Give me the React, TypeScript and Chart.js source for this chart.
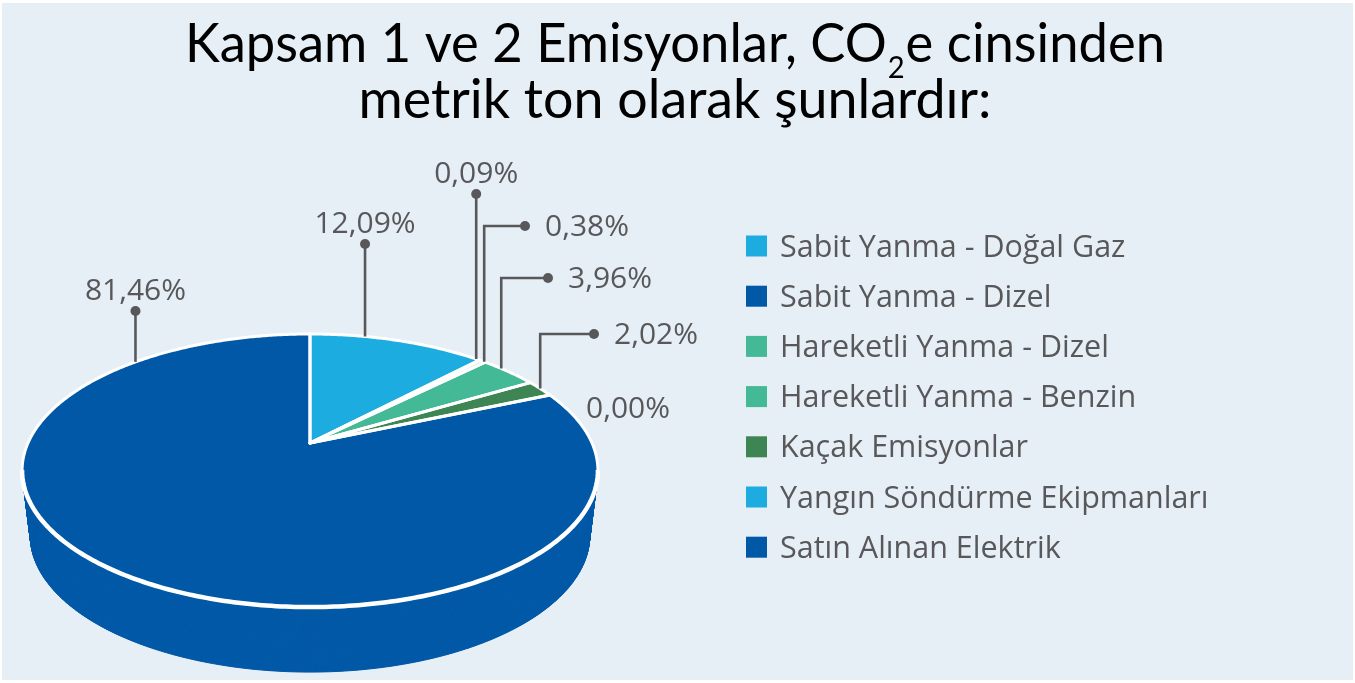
import React, { useEffect, useRef } from 'react';
import { Chart, registerables } from 'chart.js';

Chart.register(...registerables);

// ---------- data ----------
const categories = [
  'Sabit Yanma - Doğal Gaz',
  'Sabit Yanma - Dizel',
  'Hareketli Yanma - Dizel',
  'Hareketli Yanma - Benzin',
  'Kaçak Emisyonlar',
  'Yangın Söndürme Ekipmanları',
  'Satın Alınan Elektrik',
];
const shares = [12.09, 0.09, 0.38, 3.96, 2.02, 0.0, 81.46];
const valueLabels = ['12,09%', '0,09%', '0,38%', '3,96%', '2,02%', '0,00%', '81,46%'];
const sliceColors = ['#1DACE0', '#0058A7', '#43B995', '#43B995', '#3D8553', '#1DACE0', '#0058A7'];
const titleLine1 = ['Kapsam 1 ve 2 Emisyonlar, CO', '2', 'e cinsinden'];
const titleLine2 = 'metrik ton olarak şunlardır:';

// ---------- layout / style ----------
const BG = '#E6EEF6';
const TEXT = '#58585A';
const GEO = { cx: 310, cy: 443, R: 282, k: 131, p: 0.2016, Rb: 274, kb: 131, depth: 65 };
// label leader layout (anchor angle in degrees clockwise from 12 o'clock)
const labelLayout: any[] = [
  { kind: 'top', anchorDeg: 13.5, dotY: 244 },
  { kind: 'top', anchorDeg: 42.6, dotY: 194 },
  { kind: 'right', anchorDeg: 44.9, dotX: 525, dotY: 226 },
  { kind: 'right', anchorDeg: 50, dotX: 548, dotY: 278 },
  { kind: 'right', anchorDeg: 63, dotX: 594, dotY: 334 },
  { kind: 'free', x: 586, y: 418 },
  { kind: 'top', anchorDeg: -45, dotY: 311 },
];
const LEGEND = { x: 746, y0: 246, step: 50.2, box: 21, textX: 780 };

function proj(a: number, bottom = false): [number, number] {
  const u = Math.cos(a);
  const v = Math.sin(a);
  const w = 1 - GEO.p * v;
  if (!bottom) return [GEO.cx + (GEO.R * u) / w, GEO.cy + (GEO.k * v) / w];
  return [GEO.cx + (GEO.Rb * u) / w, GEO.cy + GEO.depth + (GEO.kb * v) / w];
}

const pie3d = {
  id: 'pie3d',
  beforeDraw(chart: any) {
    const ctx = chart.ctx;
    ctx.save();
    ctx.fillStyle = '#ffffff';
    ctx.fillRect(0, 0, chart.width, chart.height);
    ctx.fillStyle = BG;
    ctx.fillRect(2, 3, chart.width - 4, chart.height - 6);
    ctx.restore();
  },
  beforeDatasetsDraw(chart: any) {
    const ctx = chart.ctx;
    const meta = chart.getDatasetMeta(0);
    const arcs = meta.data as any[];
    const cols = chart.data.datasets[0].backgroundColor as string[];
    ctx.save();
    // side walls
    arcs.forEach((arc, i) => {
      const s = arc.startAngle;
      const e = arc.endAngle;
      if (e - s < 1e-6) return;
      ctx.fillStyle = cols[i];
      ctx.strokeStyle = cols[i];
      ctx.lineWidth = 1;
      const n = Math.max(1, Math.ceil((e - s) / (Math.PI / 360)));
      for (let j = 0; j < n; j++) {
        const a0 = s + ((e - s) * j) / n;
        const a1 = s + ((e - s) * (j + 1)) / n;
        const t0 = proj(a0), t1 = proj(a1), b1 = proj(a1, true), b0 = proj(a0, true);
        ctx.beginPath();
        ctx.moveTo(t0[0], t0[1]);
        ctx.lineTo(t1[0], t1[1]);
        ctx.lineTo(b1[0], b1[1]);
        ctx.lineTo(b0[0], b0[1]);
        ctx.closePath();
        ctx.fill();
        ctx.stroke();
      }
    });
    // top faces
    const paths: Path2D[] = [];
    arcs.forEach((arc, i) => {
      const s = arc.startAngle;
      const e = arc.endAngle;
      if (e - s < 1e-6) return;
      const path = new Path2D();
      path.moveTo(GEO.cx, GEO.cy);
      const n = Math.max(2, Math.ceil((e - s) / (Math.PI / 360)));
      for (let j = 0; j <= n; j++) {
        const pt = proj(s + ((e - s) * j) / n);
        path.lineTo(pt[0], pt[1]);
      }
      path.closePath();
      ctx.fillStyle = cols[i];
      ctx.fill(path);
      paths.push(path);
    });
    ctx.strokeStyle = '#ffffff';
    ctx.lineWidth = 3;
    ctx.lineJoin = 'round';
    paths.forEach((p) => ctx.stroke(p));
    // front rim white line
    ctx.beginPath();
    const a0 = 0.2, a1 = Math.PI - 0.2;
    for (let j = 0; j <= 200; j++) {
      const pt = proj(a0 + ((a1 - a0) * j) / 200);
      if (j === 0) ctx.moveTo(pt[0], pt[1]);
      else ctx.lineTo(pt[0], pt[1]);
    }
    ctx.lineWidth = 4.5;
    ctx.stroke();
    ctx.restore();
    return false;
  },
  afterDraw(chart: any) {
    const ctx = chart.ctx;
    ctx.save();
    // title
    ctx.fillStyle = '#000000';
    ctx.textBaseline = 'alphabetic';
    const big = '54px Lato';
    const small = '30px Lato';
    ctx.font = big;
    const wA = ctx.measureText(titleLine1[0]).width;
    const wC = ctx.measureText(titleLine1[2]).width;
    const w2 = ctx.measureText(titleLine2).width;
    ctx.font = small;
    const wB = ctx.measureText(titleLine1[1]).width + 2;
    const total = wA + wB + wC;
    const sx = 980 / total;
    const sx2 = 633 / w2;
    const cxT = 675;
    ctx.save();
    ctx.translate(cxT - (total * sx) / 2, 62);
    ctx.scale(sx, 1);
    ctx.font = big;
    ctx.textAlign = 'left';
    ctx.fillText(titleLine1[0], 0, 0);
    ctx.font = small;
    ctx.fillText(titleLine1[1], wA + 1, 16);
    ctx.font = big;
    ctx.fillText(titleLine1[2], wA + wB, 0);
    ctx.restore();
    ctx.save();
    ctx.translate(cxT - (w2 * sx2) / 2, 118);
    ctx.scale(sx2, 1);
    ctx.font = big;
    ctx.fillText(titleLine2, 0, 0);
    ctx.restore();

    // value labels with leaders
    ctx.font = '30px "Open Sans"';
    ctx.fillStyle = TEXT;
    ctx.strokeStyle = TEXT;
    ctx.lineWidth = 2.6;
    labelLayout.forEach((L, i) => {
      const txt = valueLabels[i];
      if (L.kind === 'free') {
        ctx.textAlign = 'left';
        ctx.fillText(txt, L.x, L.y);
        return;
      }
      const a = ((L.anchorDeg - 90) * Math.PI) / 180;
      const [ax, ay] = proj(a);
      ctx.beginPath();
      ctx.moveTo(ax, ay);
      ctx.lineTo(ax, L.dotY);
      let dx = ax;
      if (L.kind === 'right') {
        ctx.lineTo(L.dotX, L.dotY);
        dx = L.dotX;
      }
      ctx.stroke();
      ctx.beginPath();
      ctx.arc(dx, L.dotY, 5, 0, Math.PI * 2);
      ctx.fill();
      if (L.kind === 'top') {
        ctx.textAlign = 'center';
        ctx.fillText(txt, dx, L.dotY - 11.5);
      } else {
        ctx.textAlign = 'left';
        ctx.fillText(txt, dx + 20, L.dotY + 10);
      }
    });

    // legend
    const cols = chart.data.datasets[0].backgroundColor as string[];
    ctx.font = '30.5px "Open Sans"';
    ctx.textAlign = 'left';
    (chart.data.labels as string[]).forEach((lab, i) => {
      const cy = LEGEND.y0 + i * LEGEND.step;
      ctx.fillStyle = cols[i];
      ctx.fillRect(LEGEND.x, cy - LEGEND.box / 2, LEGEND.box, LEGEND.box);
      ctx.fillStyle = TEXT;
      ctx.fillText(lab, LEGEND.textX, cy + 10.5);
    });
    ctx.restore();
  },
};

export default function App() {
  const ref = useRef<HTMLCanvasElement>(null);
  useEffect(() => {
    const canvas = ref.current!;
    const chart = new Chart(canvas, {
      type: 'pie',
      data: {
        labels: categories,
        datasets: [
          {
            data: shares,
            backgroundColor: sliceColors,
            borderColor: '#ffffff',
            borderWidth: 3,
          },
        ],
      },
      options: {
        responsive: false,
        animation: false,
        devicePixelRatio: 1,
        events: [],
        plugins: {
          legend: { display: false },
          tooltip: { enabled: false },
          title: { display: false },
        },
      },
      plugins: [pie3d],
    } as any);
    return () => chart.destroy();
  }, []);
  return (
    <div style={{ position: 'fixed', left: 0, top: 0, width: 1355, height: 683 }}>
      <canvas ref={ref} width={1355} height={683} style={{ display: 'block' }} />
    </div>
  );
}
